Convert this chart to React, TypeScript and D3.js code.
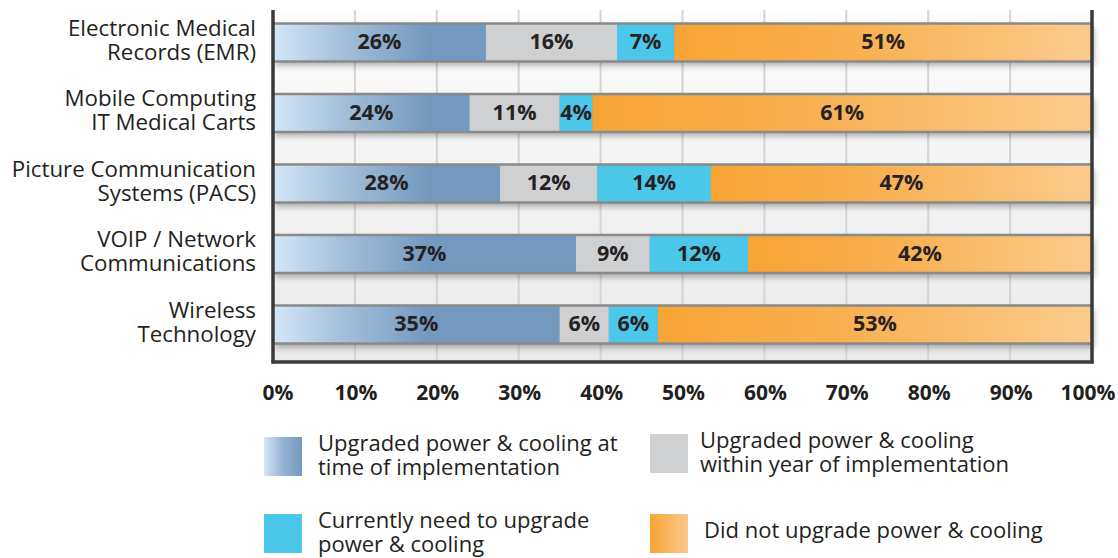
import React from "react";
import * as d3 from "d3";

const categories = [
  ["Electronic Medical", "Records (EMR)"],
  ["Mobile Computing", "IT Medical Carts"],
  ["Picture Communication", "Systems (PACS)"],
  ["VOIP / Network", "Communications"],
  ["Wireless", "Technology"],
];

const seriesKeys = ["atImplementation", "withinYear", "needUpgrade", "notUpgraded"];
const seriesLabels = [
  ["Upgraded power & cooling at", "time of implementation"],
  ["Upgraded power & cooling", "within year of implementation"],
  ["Currently need to upgrade", "power & cooling"],
  ["Did not upgrade power & cooling"],
];

const atImplementation = [26, 24, 28, 37, 35];
const withinYear = [16, 11, 12, 9, 6];
const needUpgrade = [7, 4, 14, 12, 6];
const notUpgraded = [51, 61, 47, 42, 53];

const xTicks = [0, 0.1, 0.2, 0.3, 0.4, 0.5, 0.6, 0.7, 0.8, 0.9, 1];

const W = 1118;
const H = 558;
const FONT = "'Open Sans', 'Noto Sans', sans-serif";
const fills = ["url(#blueGrad)", "#cfd0d2", "#4bc7ea", "url(#orangeGrad)"];

export default function App() {
  const rows = categories.map((c, i) => ({
    key: c.join(" "),
    atImplementation: atImplementation[i],
    withinYear: withinYear[i],
    needUpgrade: needUpgrade[i],
    notUpgraded: notUpgraded[i],
  }));

  const stacked = d3.stack<any>().keys(seriesKeys).offset(d3.stackOffsetExpand)(rows);

  const x = d3.scaleLinear().domain([0, 1]).range([273, 1092]);
  const y = d3
    .scaleBand()
    .domain(rows.map((r) => r.key))
    .range([7.3, 359.8])
    .paddingInner(0.46)
    .paddingOuter(0.23);

  const plotTop = 10;
  const plotBottom = 362;
  const bw = y.bandwidth();

  // legend slots
  const legendX = [264, 650];
  const legendY = [437, 514];

  return (
    <svg width={W} height={H} style={{ position: "absolute", left: 0, top: 0, background: "#fff" }}>
      <defs>
        <linearGradient id="blueGrad" gradientUnits="userSpaceOnUse" x1={x(0)} x2={x(0.19)} y1={0} y2={0}>
          <stop offset="0" stopColor="#d4e7f7" />
          <stop offset="0.45" stopColor="#a3bfda" />
          <stop offset="1" stopColor="#7399bf" />
        </linearGradient>
        <linearGradient id="orangeGrad" x1="0" x2="1" y1="0" y2="0">
          <stop offset="0" stopColor="#f7a434" />
          <stop offset="0.4" stopColor="#f8af4e" />
          <stop offset="1" stopColor="#fbcb8d" />
        </linearGradient>
        <linearGradient id="blueSwatch" x1="0" x2="1" y1="0" y2="0">
          <stop offset="0" stopColor="#d4e7f7" />
          <stop offset="0.5" stopColor="#94b3d2" />
          <stop offset="1" stopColor="#7399bf" />
        </linearGradient>
        <linearGradient id="orangeSwatch" x1="0" x2="1" y1="0" y2="0">
          <stop offset="0" stopColor="#f7a434" />
          <stop offset="1" stopColor="#fbc98a" />
        </linearGradient>
        <linearGradient id="bgGrad" x1="0" x2="0" y1="0" y2="1">
          <stop offset="0" stopColor="#fdfdfd" />
          <stop offset="1" stopColor="#e9e9e9" />
        </linearGradient>
        <filter id="shadow" x="-5%" y="-40%" width="110%" height="200%">
          <feDropShadow dx="2" dy="4" stdDeviation="3" floodColor="#000" floodOpacity="0.3" />
        </filter>
      </defs>

      {/* plot background */}
      <rect x={x(0)} y={plotTop} width={x(1) - x(0)} height={plotBottom - plotTop} fill="url(#bgGrad)" />

      {/* vertical grid */}
      {xTicks.slice(1, -1).map((t) => (
        <line key={t} x1={x(t)} x2={x(t)} y1={plotTop} y2={plotBottom} stroke="#d4d4d4" strokeWidth={2} />
      ))}

      {/* bar shadows */}
      {rows.map((r) => (
        <rect key={r.key} x={x(0)} y={y(r.key)} width={x(1) - x(0)} height={bw} fill="#999" filter="url(#shadow)" />
      ))}

      {/* segments */}
      {stacked.map((s, si) =>
        s.map((d, i) => (
          <rect
            key={`${si}-${i}`}
            x={x(d[0])}
            y={y(rows[i].key)}
            width={x(d[1]) - x(d[0])}
            height={bw}
            fill={fills[si]}
          />
        ))
      )}

      {/* bar borders */}
      {rows.map((r) => (
        <g key={r.key}>
          <line x1={x(0)} x2={x(1)} y1={y(r.key)!} y2={y(r.key)!} stroke="#8a8a8a" strokeWidth={2.5} />
          <line x1={x(0)} x2={x(1)} y1={y(r.key)! + bw} y2={y(r.key)! + bw} stroke="#8a8a8a" strokeWidth={2.5} />
        </g>
      ))}

      {/* value labels */}
      {stacked.map((s, si) =>
        s.map((d, i) => (
          <text
            key={`l${si}-${i}`}
            x={(x(d[0]) + x(d[1])) / 2}
            y={y(rows[i].key)! + bw / 2 + 1}
            textAnchor="middle"
            dominantBaseline="middle"
            fontFamily={FONT}
            fontWeight={700}
            fontSize={21.5}
            fill="#262223"
          >
            {(rows[i] as any)[seriesKeys[si]]}%
          </text>
        ))
      )}

      {/* axes frame */}
      <line x1={x(0)} x2={x(0)} y1={plotTop} y2={plotBottom + 1.5} stroke="#3a3a3a" strokeWidth={3.5} />
      <line x1={x(1)} x2={x(1)} y1={plotTop} y2={plotBottom + 1.5} stroke="#3a3a3a" strokeWidth={3.5} />
      <line x1={x(0) - 1.5} x2={x(1) + 1.5} y1={plotBottom} y2={plotBottom} stroke="#3a3a3a" strokeWidth={3.5} />

      {/* category labels */}
      {categories.map((lines, i) => (
        <text
          key={i}
          x={256}
          y={y(rows[i].key)! + bw / 2 - 7}
          textAnchor="end"
          fontFamily={FONT}
          fontSize={22.3}
          fill="#231f20"
        >
          {lines.map((ln, j) => (
            <tspan key={j} x={256} dy={j === 0 ? 0 : 24}>
              {ln}
            </tspan>
          ))}
        </text>
      ))}

      {/* x tick labels */}
      {xTicks.map((t) => (
        <text
          key={t}
          x={x(t) + (t === 0 ? 5 : t === 1 ? -4 : 1)}
          y={400}
          textAnchor="middle"
          fontFamily={FONT}
          fontWeight={700}
          fontSize={21}
          fill="#231f20"
        >
          {d3.format(".0%")(t)}
        </text>
      ))}

      {/* legend */}
      {seriesLabels.map((lines, i) => {
        const lx = legendX[i % 2];
        const ly = legendY[Math.floor(i / 2)] - (i === 1 ? 3 : 0);
        const swatch = ["url(#blueSwatch)", "#cfd0d2", "#4bc7ea", "url(#orangeSwatch)"][i];
        const single = lines.length === 1;
        return (
          <g key={i}>
            <rect x={lx} y={ly} width={38} height={39} fill={swatch} />
            <text fontFamily={FONT} fontSize={22} fill="#231f20">
              {lines.map((ln, j) => (
                <tspan key={j} x={lx + (i === 1 ? 50 : 54)} y={ly + (single ? 24 : 14) + j * 24}>
                  {ln}
                </tspan>
              ))}
            </text>
          </g>
        );
      })}
    </svg>
  );
}
